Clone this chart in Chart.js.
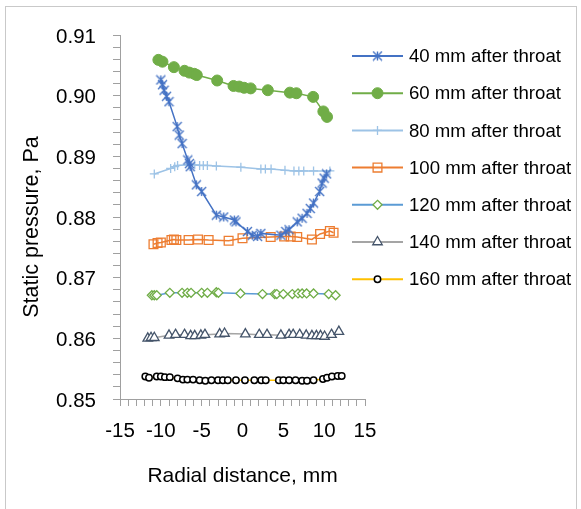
<!DOCTYPE html>
<html>
<head>
<meta charset="utf-8">
<script src="https://cdn.jsdelivr.net/npm/chart.js@4/dist/chart.umd.min.js"></script>
<style>
  body { margin: 0; background: #fff; }
  #wrap { position: relative; width: 581px; height: 509px; }
  #frame { position: absolute; left: 5px; top: 6px; width: 572px; height: 520px; border: 1px solid #c9c9c9; box-sizing: border-box; }
  canvas { position: absolute; left: 0; top: 0; }
</style>
</head>
<body>
<div id="wrap">
  <div id="frame"></div>
  <canvas id="pressureChart" width="581" height="509"></canvas>
</div>
<script>
// radial position (mm) and static pressure (Pa) for each station
const x40 = [-10.0, -9.8, -9.6, -9.3, -9.0, -8.0, -7.75, -7.4, -6.7, -6.5, -6.4, -5.65, -5.0, -3.2, -2.3, -1.0, -0.8, 0.6, 1.2, 1.85, 2.25, 4.7, 5.3, 5.7, 6.7, 7.3, 7.9, 8.3, 8.7, 9.45, 9.75, 10.0, 10.3];
const p40 = [0.9026, 0.9018, 0.9009, 0.8999, 0.8990, 0.8949, 0.8935, 0.8921, 0.8894, 0.8888, 0.8883, 0.8853, 0.8842, 0.8803, 0.8800, 0.8795, 0.8792, 0.8776, 0.8770, 0.8768, 0.8773, 0.8770, 0.8776, 0.8779, 0.8792, 0.8798, 0.8806, 0.8814, 0.8823, 0.8842, 0.8856, 0.8864, 0.8871];

const x60 = [-10.3, -9.8, -8.4, -7.1, -6.5, -5.9, -5.6, -3.1, -1.1, -0.4, 0.2, 1.0, 3.1, 5.8, 6.6, 8.65, 9.9, 10.35];
const p60 = [0.9059, 0.9056, 0.9047, 0.9041, 0.9038, 0.9036, 0.9034, 0.9025, 0.9016, 0.9015, 0.9013, 0.9012, 0.9009, 0.9005, 0.9004, 0.8998, 0.8974, 0.8965];

const x80 = [-10.8, -8.8, -8.3, -7.95, -6.6, -5.85, -5.25, -4.8, -4.3, -3.2, -0.2, 2.25, 2.8, 3.5, 5.2, 6.3, 6.9, 7.5, 8.7, 10.7];
const p80 = [0.8871, 0.8880, 0.8883, 0.8885, 0.8886, 0.8886, 0.8885, 0.8885, 0.8885, 0.8884, 0.8882, 0.8879, 0.8879, 0.8879, 0.8877, 0.8876, 0.8876, 0.8876, 0.8876, 0.8876];

const x100 = [-10.9, -10.4, -10.0, -8.7, -8.4, -8.1, -6.6, -5.45, -4.15, -1.7, 0.0, 3.45, 5.1, 5.9, 6.7, 8.5, 9.5, 10.7, 11.15];
const p100 = [0.8755, 0.8757, 0.8758, 0.8762, 0.8763, 0.8762, 0.8762, 0.8763, 0.8762, 0.8761, 0.8765, 0.8767, 0.8768, 0.8768, 0.8767, 0.8763, 0.8772, 0.8777, 0.8774];

const x120 = [-11.1, -10.8, -10.5, -8.9, -7.4, -6.75, -6.3, -5.0, -4.3, -3.2, -2.95, -0.25, 2.45, 3.95, 4.2, 5.0, 6.1, 6.8, 7.3, 7.85, 8.7, 10.55, 11.4];
const p120 = [0.8671, 0.8671, 0.8671, 0.8675, 0.8675, 0.8675, 0.8675, 0.8675, 0.8675, 0.8676, 0.8675, 0.8674, 0.8673, 0.8673, 0.8673, 0.8673, 0.8673, 0.8674, 0.8674, 0.8674, 0.8674, 0.8673, 0.8671];

const x140 = [-11.6, -11.2, -10.8, -9.0, -8.2, -7.1, -6.35, -5.85, -5.1, -4.6, -2.8, -2.2, 0.35, 2.05, 3.0, 4.7, 5.7, 6.2, 7.0, 7.8, 8.5, 9.05, 9.55, 10.05, 10.9, 11.8];
const p140 = [0.8600, 0.8601, 0.8601, 0.8605, 0.8606, 0.8606, 0.8604, 0.8604, 0.8605, 0.8606, 0.8607, 0.8608, 0.8607, 0.8606, 0.8606, 0.8605, 0.8606, 0.8606, 0.8606, 0.8605, 0.8604, 0.8604, 0.8604, 0.8603, 0.8606, 0.8611];

const x160 = [-11.9, -11.45, -10.5, -10.0, -9.5, -8.9, -7.95, -7.3, -6.75, -6.05, -5.25, -4.55, -3.8, -3.0, -2.4, -1.8, -0.8, 0.3, 1.45, 2.3, 2.85, 4.45, 5.0, 5.7, 6.5, 7.3, 7.9, 8.7, 9.85, 10.35, 10.95, 11.65, 12.15];
const p160 = [0.8537, 0.8535, 0.8537, 0.8537, 0.8536, 0.8536, 0.8534, 0.8532, 0.8532, 0.8532, 0.8531, 0.8530, 0.8531, 0.8531, 0.8531, 0.8531, 0.8531, 0.8531, 0.8531, 0.8531, 0.8531, 0.8531, 0.8531, 0.8531, 0.8531, 0.8530, 0.8530, 0.8531, 0.8533, 0.8535, 0.8537, 0.8538, 0.8538];

const seriesNames = ['40 mm after throat', '60 mm after throat', '80 mm after throat', '100 mm after throat',
                     '120 mm after throat', '140 mm after throat', '160 mm after throat'];

const xMin = -15, xMax = 15, xStep = 1, xLabelEvery = 5;
const yMin = 0.85, yMax = 0.91, yStep = 0.002, yLabelEvery = 0.01;

const FONT = "'Liberation Sans', Arial, sans-serif";
const AXIS_GREY = '#a0a0a0';

// asterisk marker (X with a vertical stroke)
function asteriskMarker(color, size) {
    const c = document.createElement('canvas');
    c.width = size; c.height = size;
    const g = c.getContext('2d');
    const m = size / 2, r = size / 2 - 1;
    g.strokeStyle = color;
    g.lineWidth = 1.4;
    g.beginPath();
    g.moveTo(m - r, m - r); g.lineTo(m + r, m + r);
    g.moveTo(m + r, m - r); g.lineTo(m - r, m + r);
    g.moveTo(m, m - r); g.lineTo(m, m + r);
    g.stroke();
    return c;
}

function pts(xs, ys) {
    return xs.map((x, i) => ({ x: x, y: ys[i] }));
}

const datasets = [
    { label: seriesNames[0], data: pts(x40, p40), borderColor: '#4472C4', borderWidth: 1.5,
      pointStyle: asteriskMarker('#4472C4', 11), pointRadius: 5 },
    { label: seriesNames[1], data: pts(x60, p60), borderColor: '#70AD47', borderWidth: 1.5,
      pointStyle: 'circle', pointRadius: 5.5, pointBackgroundColor: '#70AD47', pointBorderColor: '#70AD47', pointBorderWidth: 1 },
    { label: seriesNames[2], data: pts(x80, p80), borderColor: '#9DC3E6', borderWidth: 1.5,
      pointStyle: 'cross', pointRadius: 4.5, pointBorderColor: '#9DC3E6', pointBorderWidth: 1.3 },
    { label: seriesNames[3], data: pts(x100, p100), borderColor: '#ED7D31', borderWidth: 1.5,
      pointStyle: 'rect', pointRadius: 6.2, pointBackgroundColor: 'rgba(255,255,255,0)', pointBorderColor: '#ED7D31', pointBorderWidth: 1.3 },
    { label: seriesNames[4], data: pts(x120, p120), borderColor: '#5B9BD5', borderWidth: 1.5,
      pointStyle: 'rectRot', pointRadius: 4.5, pointBackgroundColor: '#ffffff', pointBorderColor: '#70AD47', pointBorderWidth: 1.3 },
    { label: seriesNames[5], data: pts(x140, p140), borderColor: '#A5A5A5', borderWidth: 1.5,
      pointStyle: 'triangle', pointRadius: 5.5, pointBackgroundColor: '#ffffff', pointBorderColor: '#44546A', pointBorderWidth: 1.3 },
    { label: seriesNames[6], data: pts(x160, p160), borderColor: '#FFC000', borderWidth: 1.5,
      pointStyle: 'circle', pointRadius: 3.2, pointBackgroundColor: '#ffffff', pointBorderColor: '#000000', pointBorderWidth: 1.5 }
];

datasets.forEach(d => {
    d.showLine = true;
    d.tension = 0;
    d.backgroundColor = d.borderColor;
    if (!d.pointBorderColor) d.pointBorderColor = d.borderColor;
    if (!d.pointBackgroundColor) d.pointBackgroundColor = d.borderColor;
    d.pointHoverRadius = d.pointRadius;
});

// legend: line sample with marker, text to the right
function drawMarker(ctx, ds, x, y) {
    const style = ds.pointStyle, r = ds.pointRadius;
    if (style instanceof HTMLCanvasElement) {
        ctx.drawImage(style, x - style.width / 2, y - style.height / 2);
        return;
    }
    ctx.save();
    ctx.lineWidth = ds.pointBorderWidth || 1;
    ctx.strokeStyle = ds.pointBorderColor;
    ctx.fillStyle = ds.pointBackgroundColor;
    ctx.beginPath();
    if (style === 'circle') {
        ctx.arc(x, y, r, 0, Math.PI * 2);
        ctx.fill(); ctx.stroke();
    } else if (style === 'rect') {
        const s = r * Math.SQRT1_2;
        ctx.rect(x - s, y - s, 2 * s, 2 * s);
        ctx.fill(); ctx.stroke();
    } else if (style === 'rectRot') {
        ctx.moveTo(x, y - r); ctx.lineTo(x + r, y); ctx.lineTo(x, y + r); ctx.lineTo(x - r, y);
        ctx.closePath(); ctx.fill(); ctx.stroke();
    } else if (style === 'triangle') {
        for (let k = 0; k < 3; k++) {
            const a = k * 2 * Math.PI / 3;
            const px = x + Math.sin(a) * r, py = y - Math.cos(a) * r;
            if (k === 0) ctx.moveTo(px, py); else ctx.lineTo(px, py);
        }
        ctx.closePath(); ctx.fill(); ctx.stroke();
    } else if (style === 'cross') {
        ctx.moveTo(x, y - r); ctx.lineTo(x, y + r);
        ctx.moveTo(x - r, y); ctx.lineTo(x + r, y);
        ctx.stroke();
    }
    ctx.restore();
}

const sideLegend = {
    id: 'sideLegend',
    afterDraw(chart) {
        const ctx = chart.ctx;
        const x0 = 352, x1 = 403, tx = 409, top = 56, gap = 37.2;
        ctx.save();
        chart.data.datasets.forEach((ds, i) => {
            const y = top + i * gap;
            ctx.strokeStyle = ds.borderColor;
            ctx.lineWidth = 2;
            ctx.beginPath();
            ctx.moveTo(x0, y); ctx.lineTo(x1, y);
            ctx.stroke();
            drawMarker(ctx, ds, (x0 + x1) / 2, y);
            ctx.fillStyle = '#000';
            ctx.font = '18.6px ' + FONT;
            ctx.textAlign = 'left';
            ctx.textBaseline = 'middle';
            ctx.fillText(ds.label, tx, y + 1);
        });
        ctx.restore();
    }
};

// vertical axis title
const yTitle = {
    id: 'yTitle',
    afterDraw(chart) {
        const ctx = chart.ctx;
        ctx.save();
        ctx.translate(32, 227);
        ctx.rotate(-Math.PI / 2);
        ctx.fillStyle = '#000';
        ctx.font = '21.5px ' + FONT;
        ctx.textAlign = 'center';
        ctx.textBaseline = 'middle';
        ctx.fillText('Static pressure, Pa', 0, 0);
        ctx.restore();
    }
};

function isMultiple(v, step) {
    const q = v / step;
    return Math.abs(q - Math.round(q)) < 1e-6;
}

const ctx = document.getElementById('pressureChart').getContext('2d');
const pressureChart = new Chart(ctx, {
    type: 'scatter',
    data: { datasets: datasets },
    options: {
        responsive: false,
        animation: false,
        layout: { padding: { left: 0, top: 35, right: 216, bottom: 0 } },
        plugins: { legend: { display: false }, tooltip: { enabled: false } },
        scales: {
            x: {
                type: 'linear',
                min: xMin, max: xMax,
                afterFit(scale) { scale.height = 110; },
                border: { color: AXIS_GREY, width: 1 },
                grid: { drawOnChartArea: false, color: AXIS_GREY, tickLength: 7 },
                ticks: {
                    stepSize: xStep, autoSkip: false, maxRotation: 0, padding: 13,
                    color: '#000', font: { family: FONT, size: 20.5 },
                    callback: v => isMultiple(v, xLabelEvery) ? String(Math.round(v)) : ''
                },
                title: {
                    display: true, text: 'Radial distance, mm', color: '#000',
                    font: { family: FONT, size: 21 }, padding: { top: 0, bottom: 20 }
                }
            },
            y: {
                type: 'linear',
                min: yMin, max: yMax,
                afterFit(scale) { scale.width = 120; },
                border: { color: AXIS_GREY, width: 1 },
                grid: { drawOnChartArea: false, color: AXIS_GREY, tickLength: 7 },
                ticks: {
                    stepSize: yStep, autoSkip: false, padding: 17, labelOffset: 2,
                    color: '#000', font: { family: FONT, size: 20.5 },
                    callback: v => isMultiple(v, yLabelEvery) ? v.toFixed(2) : ''
                }
            }
        }
    },
    plugins: [sideLegend, yTitle]
});
</script>
</body>
</html>
